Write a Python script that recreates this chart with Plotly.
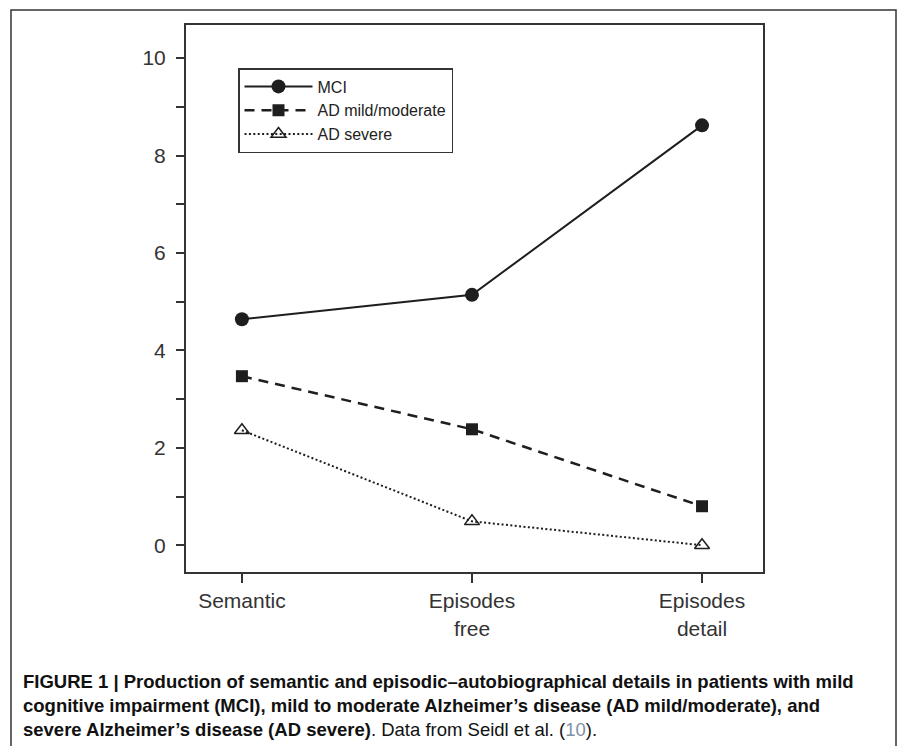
import plotly.graph_objects as go

categories = ["Semantic", "Episodes<br>free", "Episodes<br>detail"]
mci = [4.64, 5.14, 8.62]
ad_mild = [3.47, 2.38, 0.80]
ad_severe = [2.36, 0.49, 0.0]
y_ticks = [0, 2, 4, 6, 8, 10]
y_minor = [1, 3, 5, 7, 9]

W, H = 898, 746
L, R, T, B = 186, 763, 25, 572
pw, ph = R - L, B - T

def px_x(x):
    return (x - L) / pw

def px_y(y):
    return (B - y) / ph

x_idx = [0, 1, 2]
fig = go.Figure()
ink = "#1e1e1e"
fig.add_trace(go.Scatter(x=x_idx, y=mci, name="MCI", mode="lines+markers",
                         line=dict(color=ink, width=2, dash="solid"),
                         marker=dict(symbol="circle", size=14, color=ink)))
fig.add_trace(go.Scatter(x=x_idx, y=ad_mild, name="AD mild/moderate", mode="lines+markers",
                         line=dict(color=ink, width=2.5, dash="10px,7px"),
                         marker=dict(symbol="square", size=12, color=ink)))
fig.add_trace(go.Scatter(x=x_idx, y=ad_severe, name="AD severe", mode="lines+markers",
                         line=dict(color=ink, width=2, dash="2px,2.4px"),
                         marker=dict(symbol="triangle-up-open", size=13, color=ink,
                                     line=dict(width=1.5, color=ink))))

font_family = "Liberation Sans, Arial, sans-serif"
axis_col = "#333333"
fig.update_layout(
    width=W, height=H,
    margin=dict(l=L, r=W - R, t=T, b=H - B, pad=0),
    paper_bgcolor="white", plot_bgcolor="white",
    font=dict(family=font_family, color="#333333", size=21),
    showlegend=True,
    legend=dict(x=px_x(238), y=px_y(68), xanchor="left", yanchor="top",
                bordercolor=axis_col, borderwidth=1.5, bgcolor="white",
                font=dict(size=16, color="#222222"), tracegroupgap=0,
                itemwidth=68),
    xaxis=dict(range=[-0.243, 2.265], tickmode="array", tickvals=x_idx, ticktext=categories,
               showgrid=False, zeroline=False, showline=True, linecolor=axis_col, linewidth=2,
               mirror=True, ticks="outside", ticklen=9, tickwidth=2, tickcolor=axis_col,
               ticklabelstandoff=0,
               tickfont=dict(size=21, color="#333333")),
    yaxis=dict(range=[-0.55, 10.68], tickmode="array", tickvals=y_ticks,
               showgrid=False, zeroline=False, showline=True, linecolor=axis_col, linewidth=2,
               mirror=True, ticks="outside", ticklen=8, tickwidth=2, tickcolor=axis_col,
               ticklabelstandoff=6,
               tickfont=dict(size=21, color="#333333"),
               minor=dict(tickvals=y_minor, ticks="outside", ticklen=8,
                          tickwidth=2, tickcolor=axis_col)),
)

# outer frame
fig.add_shape(type="rect", xref="paper", yref="paper",
              x0=px_x(11), x1=px_x(896), y0=px_y(760), y1=px_y(10),
              line=dict(color="#333333", width=1.5), fillcolor="rgba(0,0,0,0)", layer="below")

caption_lines = [
    "<b>FIGURE 1 | Production of semantic and episodic–autobiographical details in patients with mild</b>",
    "<b>cognitive impairment (MCI), mild to moderate Alzheimer’s disease (AD mild/moderate), and</b>",
    "<b>severe Alzheimer’s disease (AD severe)</b>. Data from Seidl et al. (<span style='color:#7f8fa6'>10</span>).",
]
cap_y = [669, 693, 717]
for line, yy in zip(caption_lines, cap_y):
    fig.add_annotation(text=line, xref="paper", yref="paper", x=px_x(21), y=px_y(yy),
                       xanchor="left", yanchor="top", showarrow=False, align="left",
                       font=dict(size=18.5, color="#111111", family=font_family))

fig.write_html("out.html", config={"displayModeBar": False},
               post_script="document.body.style.margin='0';document.body.style.overflow='hidden';")
